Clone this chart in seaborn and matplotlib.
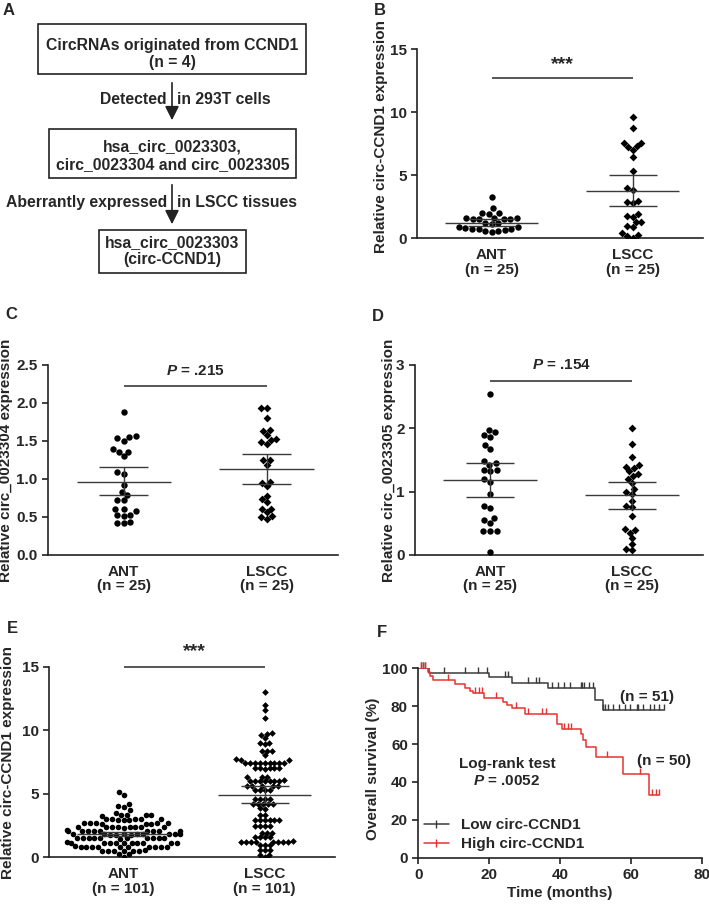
import numpy as np
import pandas as pd
import seaborn as sns
import matplotlib.pyplot as plt
from matplotlib.patches import Rectangle
from matplotlib.lines import Line2D

sns.set_style("ticks")
plt.rcParams['font.family'] = ['Liberation Sans', 'DejaVu Sans']
plt.rcParams['font.weight'] = 'bold'
plt.rcParams['axes.labelweight'] = 'bold'
plt.rcParams['font.size'] = 11
plt.rcParams['mathtext.fontset'] = 'custom'
plt.rcParams['mathtext.it'] = 'Liberation Sans:bold:italic'
plt.rcParams['mathtext.rm'] = 'Liberation Sans:bold'
plt.rcParams['axes.linewidth'] = 1.2
plt.rcParams['axes.edgecolor'] = '#222222'

# ---------------- data ----------------
groups = ['ANT', 'LSCC']
labels_25 = ['ANT\n(n = 25)', 'LSCC\n(n = 25)']
labels_101 = ['ANT\n(n = 101)', 'LSCC\n(n = 101)']

# B: circ-CCND1, 25 pairs
b_ant = [3.25, 2.38, 2.02, 1.98, 1.95, 1.62, 1.6, 1.58, 1.56, 1.55, 1.52, 1.5, 1.25,
         1.2, 1.15, 0.92, 0.88, 0.8, 0.75, 0.72, 0.7, 0.65, 0.6, 0.55, 0.5]
b_lscc = [9.58, 8.76, 7.57, 7.55, 7.31, 7.26, 6.99, 6.41, 5.36, 4.01, 3.83, 2.96, 2.88,
          2.82, 1.9, 1.77, 1.72, 1.32, 1.3, 1.0, 0.92, 0.4, 0.26, 0.18, 0.05]
b_mean, b_lo, b_hi = [1.24, 3.78], [0.98, 2.58], [1.5, 5.05]

# C: circ_0023304
c_ant = [1.886, 1.566, 1.557, 1.535, 1.504, 1.39, 1.36, 1.36, 1.30, 1.09, 1.066, 0.92, 0.83,
         0.79, 0.72, 0.72, 0.61, 0.60, 0.58, 0.53, 0.53, 0.51, 0.44, 0.42, 0.42]
c_lscc = [1.94, 1.93, 1.80, 1.645, 1.636, 1.583, 1.526, 1.513, 1.49, 1.46, 1.25, 1.25, 1.19,
          0.965, 0.95, 0.91, 0.78, 0.74, 0.70, 0.60, 0.60, 0.56, 0.51, 0.50, 0.48]
c_mean, c_lo, c_hi = [0.965, 1.13], [0.785, 0.935], [1.153, 1.33]

# D: circ_0023305
d_ant = [2.54, 1.98, 1.94, 1.89, 1.87, 1.74, 1.67, 1.49, 1.45, 1.42, 1.34, 1.34, 1.32, 1.20,
         1.16, 0.97, 0.77, 0.74, 0.58, 0.55, 0.50, 0.38, 0.38, 0.38, 0.04]
d_lscc = [2.0, 1.75, 1.54, 1.42, 1.39, 1.37, 1.32, 1.28, 1.25, 1.2, 1.14, 1.05, 0.99, 0.97,
          0.85, 0.78, 0.76, 0.61, 0.41, 0.39, 0.35, 0.27, 0.18, 0.1, 0.08]
d_mean, d_lo, d_hi = [1.18, 0.94], [0.92, 0.72], [1.45, 1.16]

# E: circ-CCND1, 101 pairs
e_ant = [5.15, 4.9, 4.2, 4.0, 3.98, 3.72, 3.5,
         3.35, 3.3, 3.32, 3.28, 3.34,
         3.0, 2.98, 2.95, 3.02, 2.97, 3.0, 2.96, 3.01,
         2.68, 2.66, 2.67, 2.65, 2.69, 2.66, 2.68, 2.67,
         2.36, 2.35, 2.37, 2.36, 2.34, 2.38, 2.36, 2.35, 2.37,
         2.09, 2.1, 2.08, 2.09, 2.1, 2.07, 2.09, 2.11, 2.08, 2.09,
         1.8, 1.82, 1.79, 1.81, 1.8, 1.78, 1.82, 1.8, 1.79, 1.81, 1.8,
         1.49, 1.5, 1.48, 1.49, 1.47, 1.51, 1.49, 1.5, 1.48, 1.49, 1.5,
         1.15, 1.16, 1.14, 1.15, 1.17, 1.15, 1.13, 1.16, 1.15, 1.14, 1.15,
         0.83, 0.84, 0.82, 0.83, 0.85, 0.83, 0.81, 0.84, 0.83, 0.82, 0.83,
         0.52, 0.53, 0.51, 0.52, 0.54, 0.52, 0.5,
         0.26, 0.25, 0.02]
e_lscc = [13.0, 12.0, 11.6, 11.0,
          9.8, 9.7, 9.6, 9.37,
          9.0, 8.97, 8.92,
          8.4, 8.38, 8.35, 8.05,
          7.7, 7.66, 7.65,
          7.44, 7.45, 7.43, 7.46, 7.44, 7.42, 7.45, 7.44, 7.43,
          7.0, 7.02, 6.98, 7.0, 7.01, 6.99,
          6.34, 6.35, 6.33,
          6.03, 6.04, 6.02, 6.03, 6.05, 6.01, 6.03, 6.04,
          5.6, 5.61, 5.59, 5.6, 5.62,
          5.3, 5.31, 5.29, 5.3,
          4.56, 4.57, 4.55, 4.56,
          4.2, 4.21, 4.19, 4.2, 4.22,
          3.85, 3.84, 3.33, 3.34,
          2.93, 2.94, 2.92, 2.93, 2.95, 2.91,
          2.46, 2.47, 2.45, 2.46,
          1.94, 1.95, 1.93,
          1.62, 1.63, 1.61, 1.62,
          1.23, 1.24, 1.22, 1.23, 1.25, 1.21, 1.23, 1.24, 1.22,
          0.97, 0.98, 0.96,
          0.58, 0.59, 0.57,
          0.18, 0.19, 0.0]
e_mean, e_lo, e_hi = [1.85, 4.93], [1.7, 4.25], [2.0, 5.6]

# F: Kaplan-Meier (months, % survival)
low_t = [0, 3.0, 20.0, 26.4, 36.7, 49.9, 52.1, 69.4]
low_s = [100, 97.7, 95.2, 92.4, 89.4, 83.3, 77.8, 77.8]
low_cens = [0.8, 1.4, 2.0, 7.3, 13.2, 16.8, 19.3, 24.5, 25.2, 31.1, 33.2, 34.0, 37.7, 39.3,
            41.0, 42.8, 45.8, 46.3, 46.8, 48.3, 49.2, 52.2, 52.7, 53.6, 55.1, 56.7, 58.4,
            59.8, 61.7, 62.0, 63.5, 65.4, 66.6, 67.9, 69.4]
high_t = [0, 2.6, 3.3, 4.2, 10.4, 13.2, 14.6, 15.3, 18.6, 24.0, 25.0, 26.4, 30.2, 39.1,
          40.5, 45.8, 46.4, 47.3, 50.2, 57.9, 65.2, 68.0]
high_s = [100, 97.9, 95.9, 93.8, 91.7, 89.6, 88.2, 86.8, 84.1, 82.2, 80.5, 78.8, 75.9,
          70.8, 67.8, 65.2, 62.4, 58.4, 53.0, 44.2, 33.2, 33.2]
high_cens = [0.8, 1.4, 2.0, 8.3, 16.0, 17.0, 18.0, 22.0, 27.5, 31.0, 35.0, 36.0, 41.0,
             42.3, 43.0, 53.3, 62.5, 66.0, 67.0, 68.0]

DARK = '#222222'
LINE = '#3a3a3a'

fig = plt.figure(figsize=(7.09, 9.05), dpi=100)
W, H = 709.0, 905.0


def add_ax(left, top, right, bottom):
    return fig.add_axes([left / W, 1 - bottom / H, (right - left) / W, (bottom - top) / H])


def dot_panel(ax, ant, lscc, mean, lo, hi, ticklabels, ylim, yticks, ylabel,
              sig, sig_y, txt_y, label_xy, dot=4.6):
    df = pd.DataFrame({'group': ['ANT'] * len(ant) + ['LSCC'] * len(lscc),
                       'value': ant + lscc})
    sns.swarmplot(data=df[df['group'] == 'ANT'], x='group', y='value', order=groups,
                  marker='o', color='black', size=dot, linewidth=0, ax=ax)
    sns.swarmplot(data=df[df['group'] == 'LSCC'], x='group', y='value', order=groups,
                  marker='D', color='black', size=dot - 0.6, linewidth=0, ax=ax)
    for i in range(2):
        ax.hlines(mean[i], i - 0.33, i + 0.33, color=LINE, lw=1.0, zorder=4)
        ax.hlines([lo[i], hi[i]], i - 0.17, i + 0.17, color=LINE, lw=1.0, zorder=4)
        ax.vlines(i, lo[i], hi[i], color=LINE, lw=1.0, zorder=4)
    ax.hlines(sig_y, 0, 1, color=LINE, lw=1.2, clip_on=False)
    fs = 14 if sig.startswith('*') else 11
    ax.text(0.5, txt_y, sig, ha='center', va='center', fontsize=fs, fontweight='bold',
            clip_on=False)
    ax.set_xlim(-0.53, 1.5)
    ax.set_ylim(*ylim)
    ax.set_yticks(yticks)
    sns.despine(ax=ax)
    ax.set_xticks([0, 1])
    ax.set_xticklabels(ticklabels)
    for t in ax.get_xticklabels():
        t.set_linespacing(1.05)
    ax.tick_params(axis='x', length=0, pad=7, labelsize=11)
    ax.tick_params(axis='y', length=4, width=1.2, labelsize=11, color=DARK)
    ax.set_xlabel('')
    ax.set_ylabel(ylabel, fontsize=11)
    ax.yaxis.set_label_coords(*label_xy)


# ---------------- A: flowchart ----------------
axA = fig.add_axes([0, 1 - 290 / H, 360 / W, 290 / H])
axA.set_xlim(0, 360)
axA.set_ylim(290, 0)
axA.axis('off')
boxes = [(38, 24, 306, 74, 'CircRNAs originated from CCND1\n(n = 4)', 54),
         (49, 129, 296, 178, 'hsa_circ_0023303,\ncirc_0023304 and circ_0023305', 156),
         (99, 230, 246, 273, 'hsa_circ_0023303\n(circ-CCND1)', 251)]
for x0, y0, x1, y1, txt, ty in boxes:
    axA.add_patch(Rectangle((x0, y0), x1 - x0, y1 - y0, fill=False, lw=1.2, ec=DARK))
    axA.text((x0 + x1) / 2, ty, txt, ha='center', va='center', fontsize=11.3,
             fontweight='bold', linespacing=1.2)
for ys, ye, left_txt, right_txt, ty in [(80, 123, 'Detected', 'in 293T cells', 99),
                                         (182, 227, 'Aberrantly expressed', 'in LSCC tissues', 202)]:
    axA.annotate('', xy=(172, ye), xytext=(172, ys),
                 arrowprops=dict(arrowstyle='-|>,head_length=0.6,head_width=0.3',
                                 color=DARK, lw=1.2, mutation_scale=14))
    axA.text(167, ty, left_txt, ha='right', va='center', fontsize=11.3, fontweight='bold')
    axA.text(177, ty, right_txt, ha='left', va='center', fontsize=11.3, fontweight='bold')

# ---------------- B ----------------
axB = add_ax(417, 49, 703, 238.3)
dot_panel(axB, b_ant, b_lscc, b_mean, b_lo, b_hi, labels_25, (0, 15), [0, 5, 10, 15],
          'Relative circ-CCND1 expression', '***', 12.7, 13.8, (-0.1, 0.54))

# ---------------- C ----------------
axC = add_ax(48, 365, 338, 555)
dot_panel(axC, c_ant, c_lscc, c_mean, c_lo, c_hi, labels_25, (0, 2.5),
          [0.0, 0.5, 1.0, 1.5, 2.0, 2.5], 'Relative circ_0023304 expression',
          '$P$ = .215', 2.22, 2.42, (-0.12, 0.5))
axC.set_yticklabels(['0.0', '0.5', '1.0', '1.5', '2.0', '2.5'])

# ---------------- D ----------------
axD = add_ax(415, 365, 703, 555)
dot_panel(axD, d_ant, d_lscc, d_mean, d_lo, d_hi, labels_25, (0, 3), [0, 1, 2, 3],
          'Relative circ_0023305 expression', '$P$ = .154', 2.75, 3.0, (-0.065, 0.5))

# ---------------- E ----------------
axE = add_ax(49, 666.7, 335, 857.3)
dot_panel(axE, e_ant, e_lscc, e_mean, e_lo, e_hi, labels_101, (0, 15), [0, 5, 10, 15],
          'Relative circ-CCND1 expression', '***', 15.0, 16.2, (-0.119, 0.5), dot=4.0)

# ---------------- F: survival ----------------
axF = add_ax(418.3, 668.3, 701.7, 857.7)
RED = '#e8312f'
for t, s, cens, col in [(low_t, low_s, low_cens, '#3a3a3a'), (high_t, high_s, high_cens, RED)]:
    sns.lineplot(x=t, y=s, drawstyle='steps-post', color=col, lw=1.1, sort=False,
                 estimator=None, ax=axF)
    t_arr, s_arr = np.array(t), np.array(s)
    cy = s_arr[np.searchsorted(t_arr, cens, side='right') - 1]
    axF.plot(cens, cy, ls='none', marker=[(0, 0), (0, 1)], ms=8, mew=1.0, mec=col,
             clip_on=False)
axF.set_xlim(0, 80)
axF.set_ylim(0, 100)
axF.set_xticks([0, 20, 40, 60, 80])
axF.set_yticks([0, 20, 40, 60, 80, 100])
sns.despine(ax=axF)
axF.tick_params(length=4, width=1.2, labelsize=11, color=DARK)
axF.set_xlabel('Time (months)', fontsize=11, labelpad=3)
axF.set_ylabel('Overall survival (%)', fontsize=11)
axF.yaxis.set_label_coords(-0.134, 0.47)
axF.text(25.0, 45, 'Log-rank test\n$P$ = .0052', ha='center', va='center', fontsize=11,
         fontweight='bold')
axF.text(64.7, 85.0, '(n = 51)', ha='center', va='center', fontsize=11, fontweight='bold')
axF.text(69.4, 51.0, '(n = 50)', ha='center', va='center', fontsize=11, fontweight='bold')
handles = [Line2D([], [], color='#3a3a3a', lw=1.1, marker='|', ms=6),
           Line2D([], [], color=RED, lw=1.1, marker='|', ms=6)]
axF.legend(handles, ['Low circ-CCND1', 'High circ-CCND1'], loc='lower left',
           bbox_to_anchor=(0.01, 0.02), frameon=False, handlelength=1.6, handletextpad=0.8,
           labelspacing=0.3, borderaxespad=0, borderpad=0.2, fontsize=11)

# ---------------- panel letters ----------------
for letter, x, y in [('A', 3, 3), ('B', 374, 3), ('C', 5, 307), ('D', 372, 309),
                     ('E', 7, 621), ('F', 377, 625)]:
    fig.text(x / W, 1 - y / H, letter, ha='left', va='top', fontsize=12, fontweight='bold')

fig.savefig('out.png', dpi=100)
